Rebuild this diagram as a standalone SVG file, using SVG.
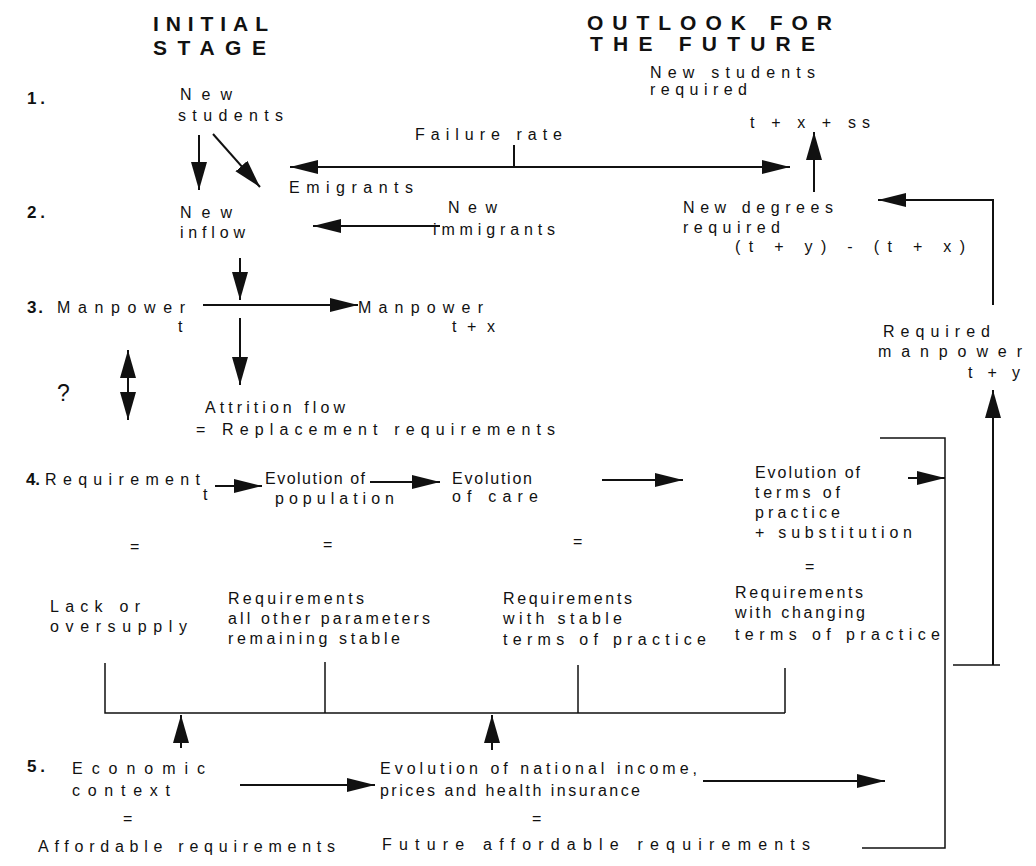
<svg xmlns="http://www.w3.org/2000/svg" width="1036" height="866" viewBox="0 0 1036 866">
<defs>
<style>
text{font-family:"Liberation Sans",Arial,sans-serif;font-size:16px;fill:#111}
.h{font-weight:bold;font-size:21px}
.n{font-weight:bold;font-size:17px}
.q{font-size:23px}
.c line,.c polyline{stroke:#111;stroke-width:2;fill:none}
.c .thin{stroke-width:1.5}
</style>
<marker id="a" markerUnits="userSpaceOnUse" markerWidth="30" markerHeight="16" refX="28" refY="7" orient="auto-start-reverse">
<path d="M0,0 L28,7 L0,14 z" fill="#111"/>
</marker>
<marker id="b" markerUnits="userSpaceOnUse" markerWidth="30" markerHeight="18" refX="28" refY="8" orient="auto-start-reverse">
<path d="M0,0 L28,8 L0,16 z" fill="#111"/>
</marker>
</defs>
<rect width="1036" height="866" fill="#fff"/>

<g id="headers">
<text class="h" x="153" y="31" textLength="115" lengthAdjust="spacing">INITIAL</text>
<text class="h" x="153" y="55" textLength="113" lengthAdjust="spacing">STAGE</text>
<text class="h" x="587" y="30" textLength="245" lengthAdjust="spacing">OUTLOOK FOR</text>
<text class="h" x="590" y="51" textLength="225" lengthAdjust="spacing">THE FUTURE</text>
</g>

<g id="row-numbers">
<text class="n" x="27" y="104" textLength="18" lengthAdjust="spacing">1.</text>
<text class="n" x="27" y="218" textLength="18" lengthAdjust="spacing">2.</text>
<text class="n" x="27" y="313" textLength="16" lengthAdjust="spacing">3.</text>
<text class="n" x="26" y="485" textLength="14" lengthAdjust="spacing">4.</text>
<text class="n" x="27" y="772" textLength="18" lengthAdjust="spacing">5.</text>
</g>

<g id="new-students">
<text x="180" y="100" textLength="52" lengthAdjust="spacing">New</text>
<text x="178" y="121" textLength="105" lengthAdjust="spacing">students</text>
</g>
<g id="failure-rate"><text x="415" y="140" textLength="147" lengthAdjust="spacing">Failure rate</text></g>
<g id="emigrants"><text x="289" y="193" textLength="124" lengthAdjust="spacing">Emigrants</text></g>
<g id="new-students-required">
<text x="650" y="78" textLength="165" lengthAdjust="spacing">New students</text>
<text x="650" y="95" textLength="97" lengthAdjust="spacing">required</text>
<text x="750" y="128" textLength="120" lengthAdjust="spacing">t + x + ss</text>
</g>
<g id="new-inflow">
<text x="180" y="218" textLength="52" lengthAdjust="spacing">New</text>
<text x="180" y="238" textLength="65" lengthAdjust="spacing">inflow</text>
</g>
<g id="new-immigrants">
<text x="448" y="213" textLength="49" lengthAdjust="spacing">New</text>
<text x="433" y="235" textLength="122" lengthAdjust="spacing">immigrants</text>
</g>
<g id="new-degrees">
<text x="683" y="213" textLength="150" lengthAdjust="spacing">New degrees</text>
<text x="683" y="233" textLength="97" lengthAdjust="spacing">required</text>
<text x="735" y="252" textLength="230" lengthAdjust="spacing">(t + y) - (t + x)</text>
</g>
<g id="manpower-t">
<text x="57" y="313" textLength="128" lengthAdjust="spacing">Manpower</text>
<text x="178" y="332">t</text>
</g>
<g id="manpower-tx">
<text x="358" y="313" textLength="125" lengthAdjust="spacing">Manpower</text>
<text x="452" y="332" textLength="43" lengthAdjust="spacing">t + x</text>
</g>
<g id="required-manpower">
<text x="883" y="337" textLength="107" lengthAdjust="spacing">Required</text>
<text x="878" y="357" textLength="144" lengthAdjust="spacing">manpower</text>
<text x="968" y="378" textLength="52" lengthAdjust="spacing">t + y</text>
</g>
<g id="question"><text class="q" x="57" y="401">?</text></g>
<g id="attrition">
<text x="205" y="413" textLength="140" lengthAdjust="spacing">Attrition flow</text>
<text x="196" y="435" textLength="359" lengthAdjust="spacing">= Replacement requirements</text>
</g>

<g id="requirement-t">
<text x="45" y="485" textLength="155" lengthAdjust="spacing">Requirement</text>
<text x="203" y="500">t</text>
<text x="130" y="552">=</text>
<text x="50" y="612" textLength="90" lengthAdjust="spacing">Lack or</text>
<text x="50" y="632" textLength="137" lengthAdjust="spacing">oversupply</text>
</g>
<g id="evolution-population">
<text x="265" y="484" textLength="100" lengthAdjust="spacing">Evolution of</text>
<text x="275" y="504" textLength="119" lengthAdjust="spacing">population</text>
<text x="323" y="550">=</text>
<text x="228" y="604" textLength="136" lengthAdjust="spacing">Requirements</text>
<text x="228" y="624" textLength="202" lengthAdjust="spacing">all other parameters</text>
<text x="228" y="644" textLength="172" lengthAdjust="spacing">remaining stable</text>
</g>
<g id="evolution-care">
<text x="452" y="484" textLength="80" lengthAdjust="spacing">Evolution</text>
<text x="452" y="502" textLength="86" lengthAdjust="spacing">of care</text>
<text x="573" y="547">=</text>
<text x="503" y="604" textLength="129" lengthAdjust="spacing">Requirements</text>
<text x="503" y="624" textLength="119" lengthAdjust="spacing">with stable</text>
<text x="503" y="645" textLength="203" lengthAdjust="spacing">terms of practice</text>
</g>
<g id="evolution-terms">
<text x="755" y="478" textLength="105" lengthAdjust="spacing">Evolution of</text>
<text x="755" y="498" textLength="85" lengthAdjust="spacing">terms of</text>
<text x="755" y="518" textLength="85" lengthAdjust="spacing">practice</text>
<text x="755" y="538" textLength="157" lengthAdjust="spacing">+ substitution</text>
<text x="805" y="572">=</text>
<text x="735" y="598" textLength="128" lengthAdjust="spacing">Requirements</text>
<text x="735" y="618" textLength="130" lengthAdjust="spacing">with changing</text>
<text x="735" y="640" textLength="205" lengthAdjust="spacing">terms of practice</text>
</g>
<g id="economic-context">
<text x="72" y="774" textLength="133" lengthAdjust="spacing">Economic</text>
<text x="72" y="796" textLength="98" lengthAdjust="spacing">context</text>
<text x="123" y="824">=</text>
<text x="38" y="852" textLength="297" lengthAdjust="spacing">Affordable requirements</text>
</g>
<g id="national-income">
<text x="380" y="774" textLength="317" lengthAdjust="spacing">Evolution of national income,</text>
<text x="380" y="796" textLength="260" lengthAdjust="spacing">prices and health insurance</text>
<text x="532" y="824">=</text>
<text x="382" y="850" textLength="428" lengthAdjust="spacing">Future affordable requirements</text>
</g>

<g id="connectors" class="c">
<line x1="199" y1="135" x2="199" y2="190" marker-end="url(#b)"/>
<line x1="213" y1="134" x2="260" y2="187" marker-end="url(#b)"/>
<line x1="290" y1="167" x2="790" y2="167" marker-start="url(#a)" marker-end="url(#a)"/>
<line x1="514" y1="145" x2="514" y2="167"/>
<line x1="814" y1="192" x2="814" y2="132" marker-end="url(#b)"/>
<line x1="440" y1="226" x2="313" y2="226" marker-end="url(#a)"/>
<polyline points="993,305 993,200 878,200" marker-end="url(#a)"/>
<line x1="240" y1="258" x2="240" y2="300" marker-end="url(#b)"/>
<line x1="203" y1="305" x2="358" y2="305" marker-end="url(#a)"/>
<line x1="240" y1="318" x2="240" y2="385" marker-end="url(#b)"/>
<line x1="128" y1="350" x2="128" y2="420" marker-start="url(#b)" marker-end="url(#b)"/>
<line x1="993" y1="665" x2="993" y2="390" marker-end="url(#b)"/>
<line class="thin" x1="953" y1="665" x2="1000" y2="665"/>
<polyline class="thin" points="880,438 945,438 945,848 862,848"/>
<line x1="215" y1="486" x2="262" y2="486" marker-end="url(#a)"/>
<line x1="370" y1="482" x2="440" y2="482" marker-end="url(#a)"/>
<line x1="602" y1="480" x2="683" y2="480" marker-end="url(#a)"/>
<line x1="908" y1="478" x2="945" y2="478" marker-end="url(#a)"/>
<polyline class="thin" points="105,663 105,713 785,713"/>
<line class="thin" x1="325" y1="662" x2="325" y2="713"/>
<line class="thin" x1="578" y1="665" x2="578" y2="713"/>
<line class="thin" x1="785" y1="668" x2="785" y2="713"/>
<line x1="181" y1="748" x2="181" y2="715" marker-end="url(#b)"/>
<line x1="492" y1="750" x2="492" y2="715" marker-end="url(#b)"/>
<line x1="240" y1="785" x2="375" y2="785" marker-end="url(#a)"/>
<line x1="703" y1="781" x2="885" y2="781" marker-end="url(#a)"/>
</g>
</svg>
